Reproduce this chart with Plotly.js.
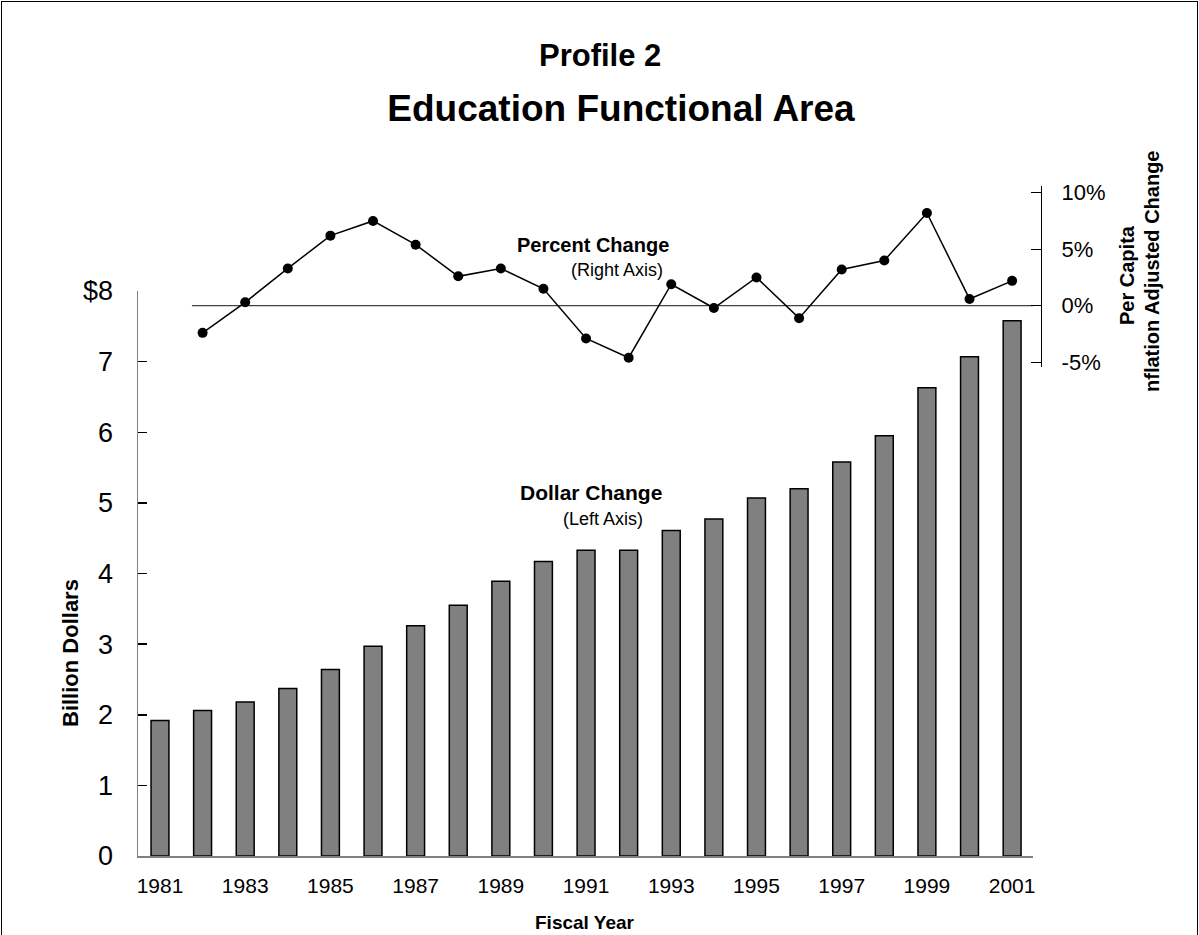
<!DOCTYPE html>
<html>
<head>
<meta charset="utf-8">
<script src="https://cdn.plot.ly/plotly-3.0.1.min.js"></script>
<style>
  html, body { margin: 0; padding: 0; background: #fff; }
  #wrap { position: relative; width: 1199px; height: 935px; }
  #chart { position: absolute; left: 0; top: 0; width: 1199px; height: 935px; }
  #frame { position: absolute; left: 1px; top: 1px; width: 1195px; height: 940px;
           border: 1px solid #000; pointer-events: none; }
</style>
</head>
<body>
<div id="wrap">
  <div id="chart"></div>
  <div id="frame"></div>
</div>
<script>
// Fiscal years
const years = [1981, 1982, 1983, 1984, 1985, 1986, 1987, 1988, 1989, 1990, 1991,
               1992, 1993, 1994, 1995, 1996, 1997, 1998, 1999, 2000, 2001];
// Education spending, billion dollars (left axis)
const dollars = [1.92, 2.06, 2.18, 2.37, 2.64, 2.97, 3.26, 3.55, 3.89, 4.17, 4.33,
                 4.33, 4.61, 4.77, 5.07, 5.20, 5.58, 5.95, 6.63, 7.07, 7.58];
// Per capita inflation adjusted change, percent (right axis), from 1982
const pctYears = years.slice(1);
const pctChange = [-2.4, 0.3, 3.3, 6.2, 7.5, 5.4, 2.6, 3.3, 1.5, -2.9,
                   -4.6, 1.9, -0.2, 2.5, -1.1, 3.2, 4.0, 8.2, 0.6, 2.2];
// Axis tick labels
const leftTicks = [0, 1, 2, 3, 4, 5, 6, 7, 8];
const leftTickText = ['0', '1', '2', '3', '4', '5', '6', '7', '$8'];
const rightTicks = [-5, 0, 5, 10];
const rightTickText = ['-5%', '0%', '5%', '10%'];
const xTicks = [1981, 1983, 1985, 1987, 1989, 1991, 1993, 1995, 1997, 1999, 2001];

const W = 1199, H = 935;
const M = { l: 138, r: 158, t: 186, b: 79 };
const PW = W - M.l - M.r, PH = H - M.t - M.b;
// helpers converting page pixels into paper fractions for annotations
const px = x => (x - M.l) / PW;
const py = y => (H - M.b - y) / PH;

const FONT = 'Arial, "Liberation Sans", Helvetica, sans-serif';

const bars = {
  type: 'bar', x: years, y: dollars, xaxis: 'x', yaxis: 'y',
  width: 0.42,
  marker: { color: '#808080', line: { color: '#000', width: 1.5 } },
  hoverinfo: 'x+y'
};
const line = {
  type: 'scatter', mode: 'lines+markers', x: pctYears, y: pctChange,
  xaxis: 'x', yaxis: 'y2',
  line: { color: '#000', width: 1.5 },
  marker: { color: '#000', size: 10 },
  cliponaxis: false
};

const layout = {
  width: W, height: H,
  margin: M,
  paper_bgcolor: '#fff', plot_bgcolor: 'rgba(0,0,0,0)',
  showlegend: false,
  font: { family: FONT, color: '#000' },
  title: {
    text: '<b>Education Functional Area</b>',
    font: { family: FONT, size: 37, color: '#000' },
    x: px(621), xanchor: 'center', xref: 'paper',
    y: 1 - 108 / H, yanchor: 'middle', yref: 'container'
  },
  xaxis: {
    domain: [0, 895 / PW],
    range: [1980.484, 2001.49],
    tickvals: xTicks, ticktext: xTicks.map(String),
    ticks: '', showgrid: false, zeroline: false,
    showline: true, linecolor: '#808080', linewidth: 1.5,
    tickfont: { family: FONT, size: 21 },
    ticklabelstandoff: 10,
    anchor: 'y'
  },
  yaxis: {
    domain: [0, 565 / PH],
    range: [0, 8],
    tickvals: leftTicks, ticktext: leftTickText,
    ticks: 'inside', ticklen: 9, tickwidth: 1.5, tickcolor: '#000',
    showline: true, linecolor: '#808080', linewidth: 1.5,
    showgrid: false, zeroline: false,
    tickfont: { family: FONT, size: 27 },
    ticklabelstandoff: 18,
    anchor: 'x'
  },
  yaxis2: {
    domain: [(856 - 367) / PH, 1],
    range: [-5.42, 10.59],
    tickvals: rightTicks, ticktext: rightTickText,
    side: 'right', anchor: 'free', position: 1,
    ticks: 'inside', ticklen: 10, tickwidth: 1.2, tickcolor: '#000',
    showline: true, linecolor: '#000', linewidth: 1.2,
    showgrid: false, zeroline: false,
    tickfont: { family: FONT, size: 22 },
    ticklabelstandoff: 15
  },
  shapes: [
    // 0% reference line for the percent-change series
    { type: 'line', xref: 'x', yref: 'y2', x0: 1981.75, x1: 2001.68, y0: 0, y1: 0,
      line: { color: '#444', width: 1.2 }, layer: 'below' }
  ],
  annotations: [
    { text: '<b>Profile 2</b>', xref: 'paper', yref: 'paper', x: px(600), y: py(55),
      xanchor: 'center', yanchor: 'middle', showarrow: false, font: { size: 31 } },
    { text: '<b>Percent Change</b>', xref: 'paper', yref: 'paper', x: px(593), y: py(245),
      xanchor: 'center', yanchor: 'middle', showarrow: false, font: { size: 20 } },
    { text: '(Right Axis)', xref: 'paper', yref: 'paper', x: px(617), y: py(270),
      xanchor: 'center', yanchor: 'middle', showarrow: false, font: { size: 18 } },
    { text: '<b>Dollar Change</b>', xref: 'paper', yref: 'paper', x: px(591), y: py(492),
      xanchor: 'center', yanchor: 'middle', showarrow: false, font: { size: 21 } },
    { text: '(Left Axis)', xref: 'paper', yref: 'paper', x: px(603), y: py(519),
      xanchor: 'center', yanchor: 'middle', showarrow: false, font: { size: 18 } },
    { text: '<b>Fiscal Year</b>', xref: 'paper', yref: 'paper', x: px(585), y: py(922),
      xanchor: 'center', yanchor: 'middle', showarrow: false, font: { size: 19 } },
    { text: '<b>Billion Dollars</b>', xref: 'paper', yref: 'paper', x: px(70), y: py(653),
      xanchor: 'center', yanchor: 'middle', showarrow: false, textangle: -90,
      font: { size: 22 } },
    { text: '<b>Per Capita</b>', xref: 'paper', yref: 'paper', x: px(1127), y: py(275),
      xanchor: 'center', yanchor: 'middle', showarrow: false, textangle: -90,
      font: { size: 20 } },
    { text: '<b>nflation Adjusted Change</b>', xref: 'paper', yref: 'paper', x: px(1152), y: py(272),
      xanchor: 'center', yanchor: 'middle', showarrow: false, textangle: -90,
      font: { size: 20 } }
  ]
};

Plotly.newPlot('chart', [bars, line], layout, { staticPlot: true, displayModeBar: false });
</script>
</body>
</html>
